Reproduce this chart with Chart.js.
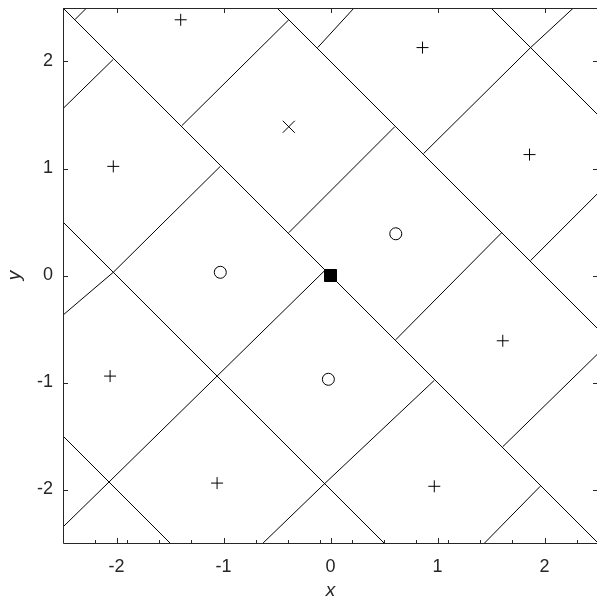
<!DOCTYPE html>
<html>
<head>
<meta charset="utf-8">
<script src="https://cdn.jsdelivr.net/npm/chart.js@4.4.1/dist/chart.umd.min.js"></script>
<style>
  html, body { margin: 0; padding: 0; background: #fff; overflow: hidden; }
  #wrap { width: 600px; height: 599px; }
</style>
</head>
<body>
<div id="wrap"><canvas id="myChart" width="600" height="599"></canvas></div>
<script>
// ticks
const xTicks = [-2, -1, 0, 1, 2];
const yTicks = [-2, -1, 0, 1, 2];
const xMinorTicks = [-2.2, -1.9, -1.6, -1.3, -1.0, -0.7, -0.4, -0.1, 0.2, 0.5, 0.8, 1.1, 1.4, 1.7, 2.0, 2.3];

// lines going down-right: x + y = c
const downIntercepts = [-4, -2, 0, 2, 4];

// segments going up-right ([x, y] pairs)
const upSegments = [
    [[-2.5, -2.35], [-2.07, -1.93], [-1.06, -0.94], [-0.05, 0.05]],
    [[-2.5, -0.37], [-2.03, 0.03], [-1.03, 1.02]],
    [[-2.5, 1.56], [-2.03, 2.02]],
    [[-2.39, 2.39], [-2.28, 2.5]],
    [[-1.39, 1.40], [-0.39, 2.39]],
    [[-0.12, 2.13], [0.22, 2.5]],
    [[-0.39, 0.40], [0.60, 1.39]],
    [[0.87, 1.14], [1.87, 2.13], [2.27, 2.5]],
    [[0.61, -0.60], [1.60, 0.40]],
    [[1.87, 0.14], [2.5, 0.77]],
    [[-0.63, -2.5], [-0.06, -1.95], [0.97, -0.98]],
    [[1.61, -1.60], [2.5, -0.73]],
    [[1.44, -2.5], [1.96, -1.97]]
];

// markers
const plusX = [-1.40, 0.86, -2.03, 1.86, 1.61, -2.06, -1.06, 0.97];
const plusY = [2.39, 2.13, 1.02, 1.13, -0.61, -0.94, -1.94, -1.97];
const crossX = [-0.39];
const crossY = [1.39];
const circleX = [0.61, -1.03, -0.02];
const circleY = [0.39, 0.03, -0.97];
const squareX = [0];
const squareY = [0];

const axisColor = '#262626';
const fontFamily = "'Liberation Sans', Arial, Helvetica, sans-serif";

function toPoints(xs, ys) {
    return xs.map((x, i) => ({ x: x, y: ys[i] }));
}

function lineDataset(points) {
    return {
        data: points,
        showLine: true,
        borderColor: '#000',
        borderWidth: 1,
        pointRadius: 0,
        tension: 0
    };
}

function markerDataset(xs, ys, style, radius, fill) {
    return {
        data: toPoints(xs, ys),
        showLine: false,
        pointStyle: style,
        pointRadius: radius,
        pointBorderColor: '#000',
        pointBorderWidth: 1,
        pointBackgroundColor: fill
    };
}

const datasets = [];
downIntercepts.forEach(c => {
    datasets.push(lineDataset([{ x: -3, y: c + 3 }, { x: 3, y: c - 3 }]));
});
upSegments.forEach(seg => {
    datasets.push(lineDataset(seg.map(p => ({ x: p[0], y: p[1] }))));
});
datasets.push(markerDataset(plusX, plusY, 'cross', 6, 'transparent'));
datasets.push(markerDataset(crossX, crossY, 'crossRot', 8.5, 'transparent'));
datasets.push(markerDataset(circleX, circleY, 'circle', 6, 'transparent'));
datasets.push(markerDataset(squareX, squareY, 'rect', 8.5, '#000'));

// no extra room for the outer tick labels
function noLabelPadding(scale) {
    scale.paddingTop = 0;
    scale.paddingBottom = 0;
    scale.paddingLeft = 0;
    scale.paddingRight = 0;
}

// frame with inward ticks on all sides, minor ticks on the bottom
const frameTicks = {
    id: 'frameTicks',
    afterDraw(chart) {
        const { ctx, chartArea: a, scales } = chart;
        ctx.save();
        ctx.strokeStyle = axisColor;
        ctx.lineWidth = 1;
        ctx.beginPath();
        ctx.rect(Math.round(a.left) + 0.5, Math.round(a.top) + 0.5,
            Math.round(a.right - a.left), Math.round(a.bottom - a.top));
        ctx.stroke();

        ctx.beginPath();
        xTicks.forEach(v => {
            const px = Math.round(scales.x.getPixelForValue(v)) + 0.5;
            ctx.moveTo(px, a.bottom); ctx.lineTo(px, a.bottom - 5);
            ctx.moveTo(px, a.top); ctx.lineTo(px, a.top + 5);
        });
        xMinorTicks.forEach(v => {
            const px = Math.round(scales.x.getPixelForValue(v)) + 0.5;
            ctx.moveTo(px, a.bottom); ctx.lineTo(px, a.bottom - 3);
        });
        yTicks.forEach(v => {
            const py = Math.round(scales.y.getPixelForValue(v)) + 0.5;
            ctx.moveTo(a.left, py); ctx.lineTo(a.left + 5, py);
            ctx.moveTo(a.right, py); ctx.lineTo(a.right - 5, py);
        });
        ctx.stroke();
        ctx.restore();
    }
};

function createChart() {
    const ctx = document.getElementById('myChart').getContext('2d');
    new Chart(ctx, {
        type: 'scatter',
        data: { datasets: datasets },
        options: {
            responsive: false,
            animation: false,
            devicePixelRatio: 1,
            layout: { autoPadding: false, padding: { left: 0, top: 8, right: 2, bottom: 0 } },
            plugins: {
                legend: { display: false },
                tooltip: { enabled: false }
            },
            scales: {
                x: {
                    type: 'linear',
                    position: 'bottom',
                    min: -2.5,
                    max: 2.5,
                    afterBuildTicks: axis => { axis.ticks = xTicks.map(v => ({ value: v })); },
                    afterFit: scale => { scale.height = 56; noLabelPadding(scale); },
                    grid: { display: false, drawTicks: false },
                    border: { display: false },
                    ticks: {
                        color: axisColor,
                        padding: 13,
                        maxRotation: 0,
                        font: { family: fontFamily, size: 18 }
                    },
                    title: {
                        display: true,
                        text: 'x',
                        color: axisColor,
                        padding: { top: 0, bottom: -3 },
                        font: { family: fontFamily, size: 19, style: 'italic' }
                    }
                },
                y: {
                    type: 'linear',
                    position: 'left',
                    min: -2.5,
                    max: 2.5,
                    afterBuildTicks: axis => { axis.ticks = yTicks.map(v => ({ value: v })); },
                    afterFit: scale => { scale.width = 63; noLabelPadding(scale); },
                    grid: { display: false, drawTicks: false },
                    border: { display: false },
                    ticks: {
                        color: axisColor,
                        padding: 10,
                        font: { family: fontFamily, size: 18 }
                    },
                    title: {
                        display: true,
                        text: 'y',
                        color: axisColor,
                        padding: { top: 3, bottom: 0 },
                        font: { family: fontFamily, size: 19, style: 'italic' }
                    }
                }
            }
        },
        plugins: [frameTicks]
    });
}

document.addEventListener('DOMContentLoaded', () => {
    createChart();
});
</script>
</body>
</html>
